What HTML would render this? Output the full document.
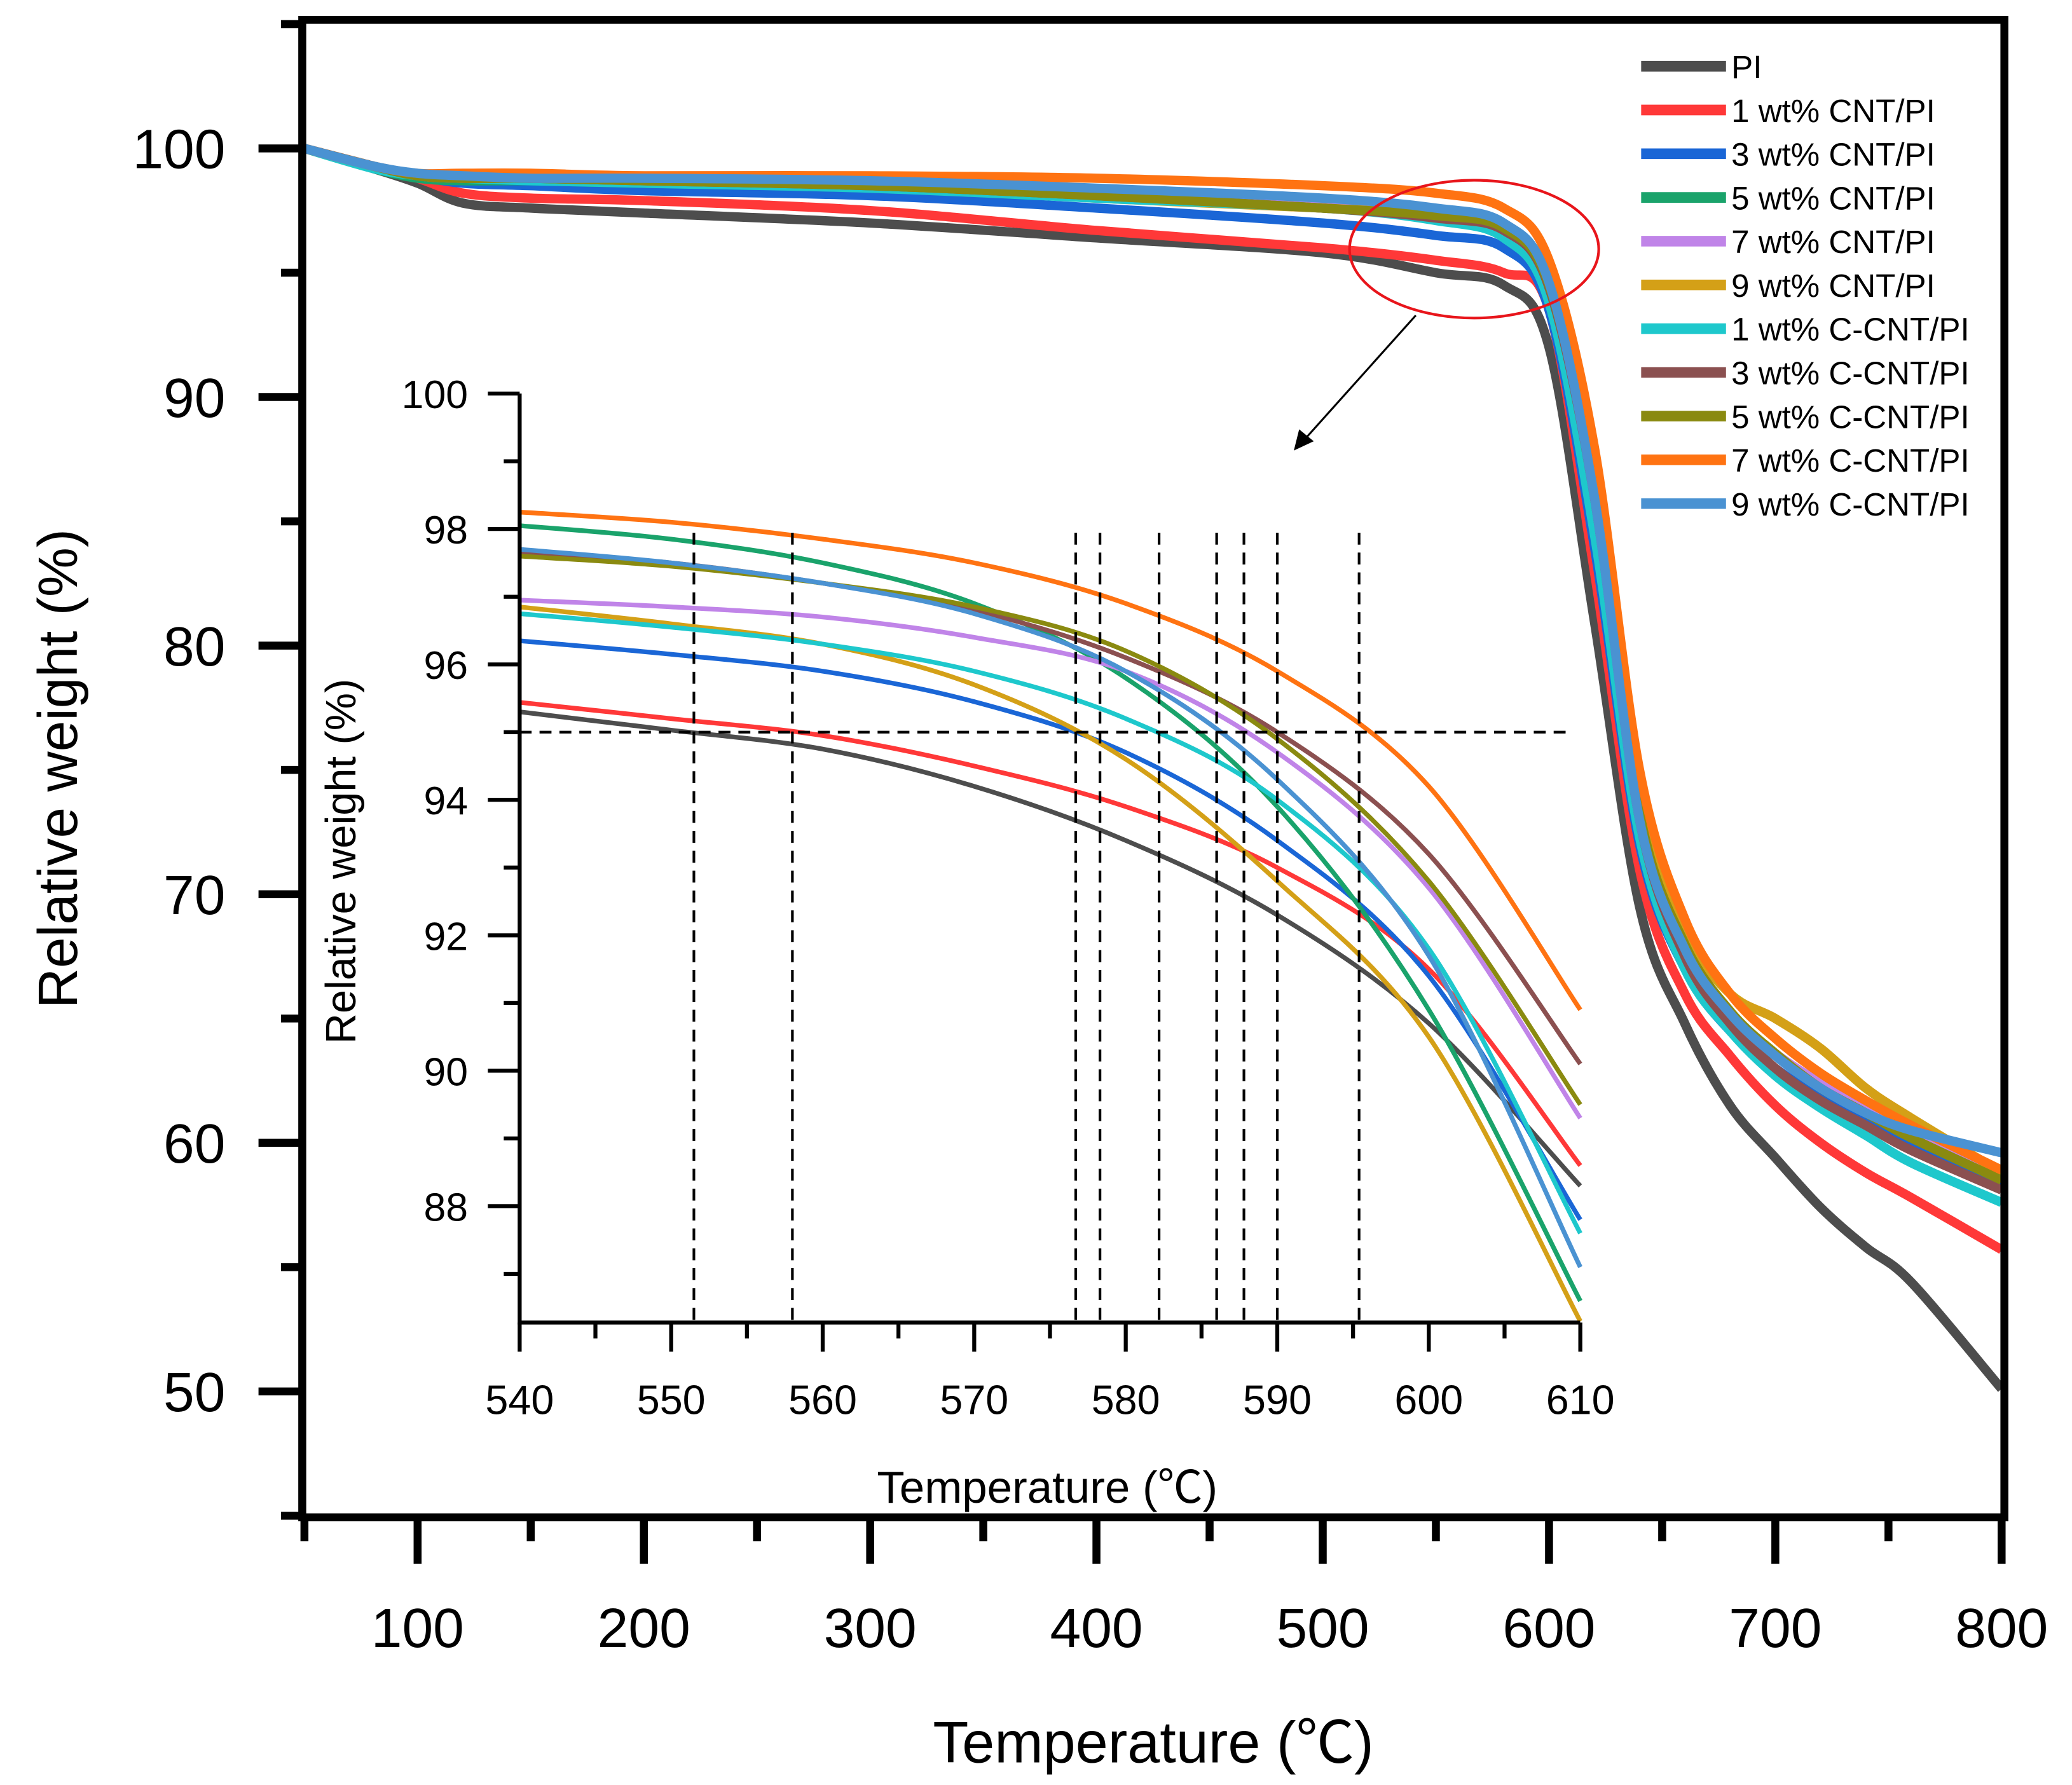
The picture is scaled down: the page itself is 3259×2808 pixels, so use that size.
<!DOCTYPE html>
<html><head><meta charset="utf-8"><style>
html,body{margin:0;padding:0;background:#fff}
svg{display:block}
text{font-family:"Liberation Sans","Noto Sans CJK SC",sans-serif;fill:#000}
</style></head><body>
<svg id="chart" width="3259" height="2808" viewBox="0 0 1563 1347" preserveAspectRatio="none" xmlns="http://www.w3.org/2000/svg"></svg>
<script>
const seriesNames=["PI","1 wt% CNT/PI","3 wt% CNT/PI","5 wt% CNT/PI","7 wt% CNT/PI","9 wt% CNT/PI","1 wt% C-CNT/PI","3 wt% C-CNT/PI","5 wt% C-CNT/PI","7 wt% C-CNT/PI","9 wt% C-CNT/PI"];
const seriesColors=["#4d4d4d","#ff3838","#1a66d6","#1aa36b","#c084e8","#d4a017","#1ec8cc","#8b5050","#8a8a10","#ff7312","#4a92d2"];
const mainTemps=[50,80,100,120,150,200,300,400,500,550,580,600,620,640,660,680,700,720,740,760,800];
const mainPI=[100,99.2,98.6,97.8,97.6,97.4,97.0,96.4,95.8,95.0,94.5,92.0,81,69.5,64.8,61.5,59.4,57.4,55.8,54.4,50.1];
const main1CNT=[100,99.3,98.8,98.2,98.0,97.9,97.5,96.7,96.0,95.5,95.0,93.5,83,71,66,63.5,61.5,60,58.8,57.8,55.7];
const main3CNT=[100,99.3,98.9,98.6,98.5,98.3,98.1,97.6,97.0,96.5,96.0,93.5,84,72,67,64.5,63,61.8,60.8,59.8,58.3];
const main5CNT=[100,99.2,98.8,98.7,98.7,98.6,98.5,98.2,97.8,97.4,96.6,94.0,85,72.5,67.5,65,63.5,62.3,61.3,60.3,58.6];
const main7CNT=[100,99.3,98.9,98.8,98.8,98.7,98.6,98.2,97.8,97.4,96.7,94.3,85.5,72.8,67.8,65.2,63.6,62.4,61.4,60.5,58.7];
const main9CNT=[100,99.3,98.9,98.8,98.8,98.7,98.5,98.0,97.6,97.3,96.8,94.5,86,73.5,68.5,66,65,63.8,62.2,61,58.8];
const main1C=[100,99.2,98.9,98.8,98.7,98.6,98.4,98.0,97.6,97.1,96.4,93.8,84.5,72.3,67,64.5,62.7,61.4,60.3,59.2,57.6];
const main3C=[100,99.3,98.9,98.8,98.8,98.7,98.5,98.1,97.6,97.2,96.7,94.4,86,73,67.5,64.8,63,61.7,60.7,59.7,58.1];
const main5C=[100,99.3,98.9,98.8,98.8,98.7,98.5,98.1,97.6,97.3,96.8,94.5,86.2,73.3,68,65.3,63.6,62.2,61.2,60.2,58.5];
const main7C=[100,99.3,99.0,99.0,99.0,98.9,98.9,98.8,98.5,98.2,97.6,95.5,88,75,69,66,64.2,62.8,61.7,60.7,58.9];
const main9C=[100,99.3,99.0,98.9,98.8,98.8,98.7,98.4,98.0,97.6,97.0,94.6,86,73,67.8,65.2,63.5,62.2,61.2,60.5,59.6];
const mainSeries=[mainPI,main1CNT,main3CNT,main5CNT,main7CNT,main9CNT,main1C,main3C,main5C,main7C,main9C];
const insetTemps=[540,550,560,570,580,590,600,610];
const inPI=[95.3,95.03,94.75,94.2,93.4,92.3,90.7,88.3];
const in1CNT=[95.44,95.2,94.95,94.5,93.9,93.0,91.5,88.6];
const in3CNT=[96.35,96.15,95.9,95.45,94.7,93.4,91.4,87.8];
const in5CNT=[98.05,97.85,97.5,96.9,95.8,93.9,90.9,86.6];
const in7CNT=[96.95,96.85,96.7,96.4,95.9,94.7,92.7,89.3];
const in9CNT=[96.85,96.6,96.3,95.7,94.6,92.8,90.5,86.3];
const in1C=[96.75,96.55,96.3,95.9,95.2,94.0,91.8,87.6];
const in3C=[97.65,97.5,97.2,96.8,96.1,95.0,93.2,90.1];
const in5C=[97.6,97.45,97.2,96.85,96.2,94.9,92.8,89.5];
const in7C=[98.25,98.1,97.85,97.5,96.9,95.9,94.2,90.9];
const in9C=[97.7,97.5,97.2,96.75,95.9,94.3,91.7,87.1];
const insetSeries=[inPI,in1CNT,in3CNT,in5CNT,in7CNT,in9CNT,in1C,in3C,in5C,in7C,in9C];
const dashTemps=[551.5,558,576.7,578.3,582.2,586,587.8,590,595.4];
const dashWeight=95;
const mainXTicks=[100,200,300,400,500,600,700,800];
const mainYTicks=[50,60,70,80,90,100];
const insetXTicks=[540,550,560,570,580,590,600,610];
const insetYTicks=[88,90,92,94,96,98,100];

const NS="http://www.w3.org/2000/svg";
const svg=document.getElementById('chart');
function el(tag,attrs,parent,txt){const e=document.createElementNS(NS,tag);for(const k in attrs)e.setAttribute(k,attrs[k]);if(txt!==undefined)e.textContent=txt;(parent||svg).appendChild(e);return e;}
const mx=t=>315+(t-100)*1.707;
const my=w=>112+(100-w)*18.76;
const ix=t=>392+(t-540)*11.43;
const iy=w=>297+(100-w)*51.1;
function smooth(pts){let d=`M${pts[0][0]},${pts[0][1]}`;for(let i=0;i<pts.length-1;i++){const p0=pts[i-1]||pts[i],p1=pts[i],p2=pts[i+1],p3=pts[i+2]||p2;const c1=[p1[0]+(p2[0]-p0[0])/6,p1[1]+(p2[1]-p0[1])/6],c2=[p2[0]-(p3[0]-p1[0])/6,p2[1]-(p3[1]-p1[1])/6];d+=`C${c1[0]},${c1[1]} ${c2[0]},${c2[1]} ${p2[0]},${p2[1]}`;}return d;}

const gMain=el('g',{});


mainSeries.forEach((s,i)=>{const p=el('path',{d:smooth(mainTemps.map((t,j)=>[mx(t),my(s[j])])),fill:'none',stroke:seriesColors[i],'stroke-width':7,'stroke-linejoin':'round'},gMain);

});

const frame=el('rect',{x:228,y:15,width:1284,height:1130,fill:'none',stroke:'#000','stroke-width':6});


for(let w=45;w<=105;w+=5){const major=w%10===0;const t=el('line',{x1:228,x2:major?195:212,y1:my(w),y2:my(w),stroke:'#000','stroke-width':6});

}
mainYTicks.forEach(w=>{const t=el('text',{x:170,y:my(w)+15,'text-anchor':'end','font-size':42},svg,String(w));

});
for(let t=50;t<=800;t+=50){const major=t%100===0;const l=el('line',{x1:mx(t),x2:mx(t),y1:1145,y2:major?1180:1163,stroke:'#000','stroke-width':6});

}
mainXTicks.forEach(t=>{const l=el('text',{x:mx(t),y:1243,'text-anchor':'middle','font-size':42},svg,String(t));

});
const yt=el('text',{x:0,y:0,'text-anchor':'middle','font-size':42,transform:'translate(58,580) rotate(-90)'},svg,'Relative weight (%)');


const xt=el('text',{x:870,y:1330,'text-anchor':'middle','font-size':44},svg,'Temperature (℃)');



seriesNames.forEach((n,i)=>{const y=50+i*33;const g=el('g',{});


el('line',{x1:1238,x2:1302,y1:y,y2:y,stroke:seriesColors[i],'stroke-width':8},g);
el('text',{x:1306,y:y+9,'font-size':24.5},g,n);});

const ell=el('ellipse',{cx:1112,cy:188,rx:94,ry:52,fill:'none',stroke:'#e8151b','stroke-width':2});


const arr=el('line',{x1:1068,y1:238,x2:982,y2:334,stroke:'#000','stroke-width':1.5});


el('polygon',{points:'976,340 980,324 991,333',fill:'#000'});

const gIn=el('g',{});


insetSeries.forEach((s,i)=>{const p=el('path',{d:smooth(insetTemps.map((t,j)=>[ix(t),iy(s[j])])),fill:'none',stroke:seriesColors[i],'stroke-width':3.5},gIn);

});
const hd=el('line',{x1:392,x2:1185,y1:iy(dashWeight),y2:iy(dashWeight),stroke:'#000','stroke-width':2,'stroke-dasharray':'9,6'});


dashTemps.forEach(t=>{const l=el('line',{x1:ix(t),x2:ix(t),y1:402,y2:998,stroke:'#000','stroke-width':2,'stroke-dasharray':'9,6'});

});
const ia=el('path',{d:'M392,297 L392,998 L1192,998',fill:'none',stroke:'#000','stroke-width':3});


for(let w=87;w<=100;w++){const major=w%2===0;el('line',{x1:392,x2:major?368:380,y1:iy(w),y2:iy(w),stroke:'#000','stroke-width':3});}
insetYTicks.forEach(w=>{const t=el('text',{x:353,y:iy(w)+11,'text-anchor':'end','font-size':30},svg,String(w));

});
for(let t=540;t<=610;t+=5){const major=t%10===0;el('line',{x1:ix(t),x2:ix(t),y1:998,y2:major?1020:1010,stroke:'#000','stroke-width':3});}
insetXTicks.forEach(t=>{const l=el('text',{x:ix(t),y:1067,'text-anchor':'middle','font-size':31},svg,String(t));

});
const iyt=el('text',{x:0,y:0,'text-anchor':'middle','font-size':32,transform:'translate(268,650) rotate(-90)'},svg,'Relative weight (%)');


const ixt=el('text',{x:790,y:1134,'text-anchor':'middle','font-size':34},svg,'Temperature (℃)');


</script>
</body></html>
